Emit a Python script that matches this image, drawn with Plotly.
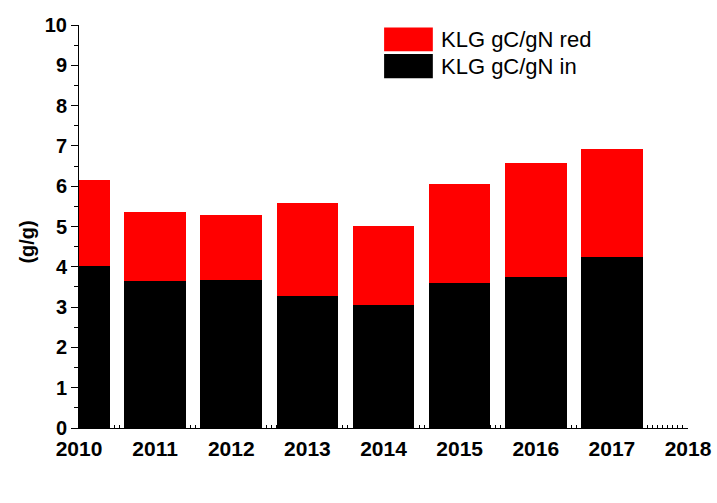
import plotly.graph_objects as go

years = [2010, 2011, 2012, 2013, 2014, 2015, 2016, 2017]
klg_in = [4.03, 3.65, 3.67, 3.28, 3.05, 3.61, 3.75, 4.25]
klg_red = [2.12, 1.72, 1.62, 2.31, 1.96, 2.44, 2.83, 2.67]
series_names = ["KLG gC/gN red", "KLG gC/gN in"]
y_ticks = list(range(0, 11))
x_ticks = list(range(2010, 2019))

FONT = "Liberation Sans, Arial, sans-serif"

fig = go.Figure()
fig.add_trace(go.Bar(x=years, y=klg_in, name=series_names[1], marker=dict(color="#000000", line=dict(width=0)),
                     width=0.81, showlegend=False))
fig.add_trace(go.Bar(x=years, y=klg_red, name=series_names[0], marker=dict(color="#ff0000", line=dict(width=0)),
                     width=0.81, showlegend=False))

fig.update_layout(
    barmode="stack",
    width=717, height=503,
    margin=dict(l=79, r=29, t=25, b=75, autoexpand=False),
    paper_bgcolor="white", plot_bgcolor="white",
    font=dict(family=FONT, color="black"),
    xaxis=dict(range=[2010, 2018], tickvals=x_ticks, ticktext=[str(v) for v in x_ticks], automargin=False,
               showgrid=False, zeroline=False, showline=True, linecolor="black", linewidth=1,
               ticks="inside", ticklen=6, tickwidth=1, tickcolor="black", ticklabelstandoff=2,
               tickfont=dict(size=21, family=FONT, weight="bold"),
               minor=dict(dtick=1/15, ticks="inside", ticklen=3, tickwidth=1, tickcolor="black", showgrid=False)),
    yaxis=dict(range=[0, 10], tickvals=y_ticks, ticktext=[str(v) for v in y_ticks], automargin=False,
               showgrid=False, zeroline=False, showline=True, linecolor="black", linewidth=1,
               ticks="outside", ticklen=7, tickwidth=1, tickcolor="black",
               tickfont=dict(size=20, family=FONT, weight="bold"),
               minor=dict(dtick=0.5, ticks="outside", ticklen=4, tickwidth=1, tickcolor="black", showgrid=False)),
)

fig.add_annotation(text="(g/g)", x=0, y=0.46, xref="paper", yref="paper", xanchor="center", yanchor="middle",
                   xshift=-52, textangle=-90, showarrow=False,
                   font=dict(size=20, family=FONT, weight="bold", color="black"))

# legend drawn manually (large swatches)
legend_items = [(series_names[0], "#ff0000", 0.994, 0.935), (series_names[1], "#000000", 0.928, 0.868)]
for name, col, y1, y0 in legend_items:
    fig.add_shape(type="rect", xref="paper", yref="paper", x0=0.501, x1=0.581, y0=y0, y1=y1,
                  fillcolor=col, line=dict(width=0))
    fig.add_annotation(text=name, x=0.591, y=(y0 + y1) / 2, xref="paper", yref="paper",
                       xanchor="left", yanchor="middle", showarrow=False,
                       font=dict(size=22, family=FONT, color="black"))

fig.write_html("out.html")
